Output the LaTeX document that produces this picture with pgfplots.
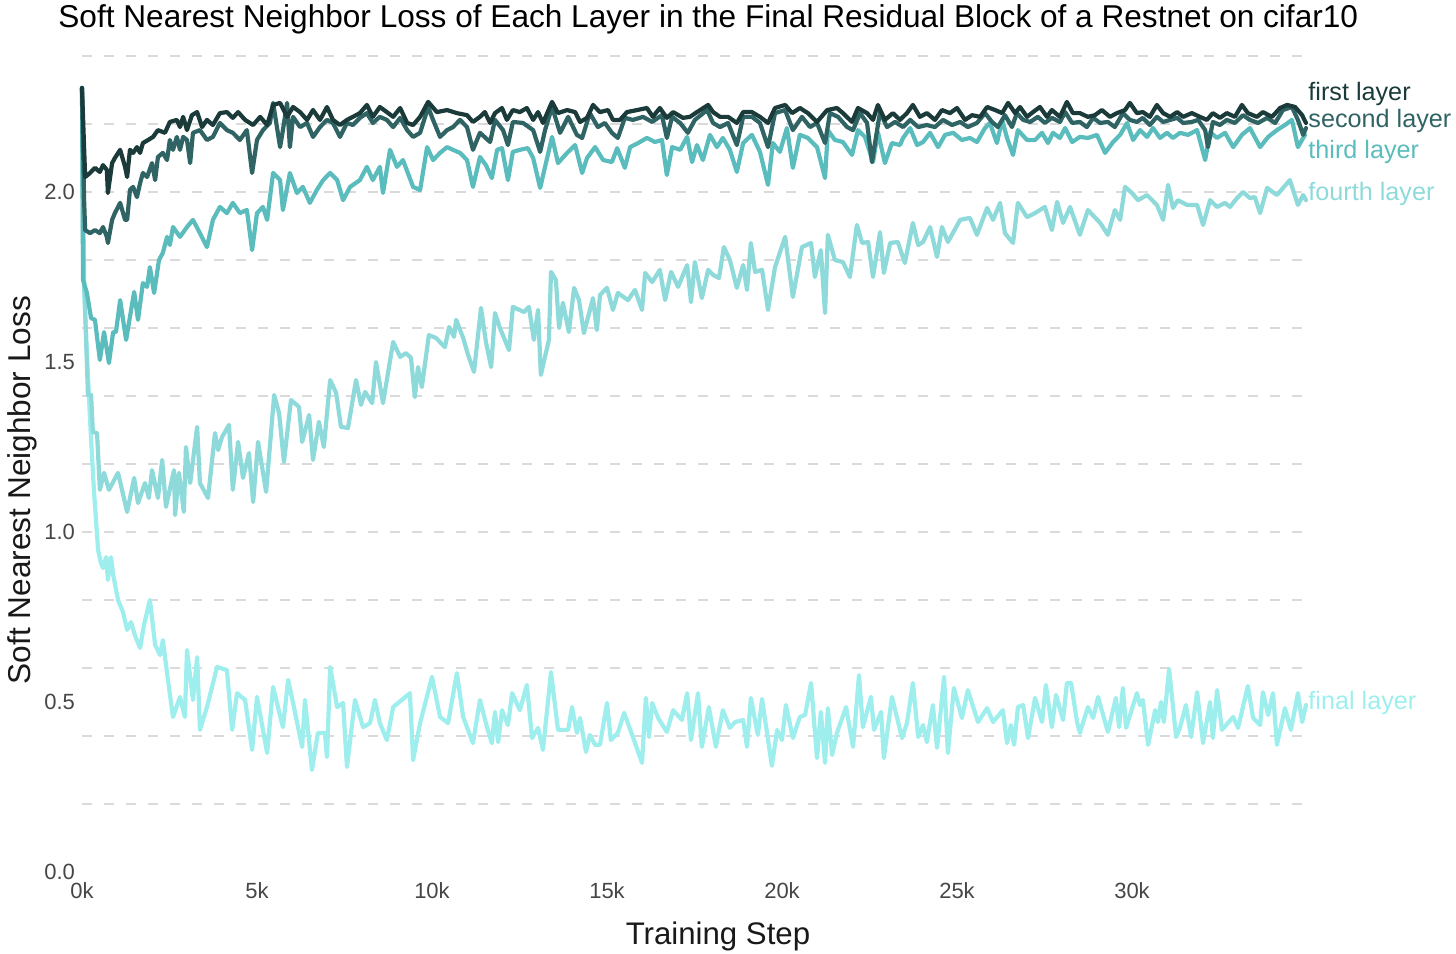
\documentclass[border=0pt]{standalone}
\usepackage{pgfplots}
\pgfplotsset{compat=1.18}
\usepackage{fontspec}
\setmainfont{Liberation Sans}
\definecolor{cfirst}{RGB}{27,58,58}
\definecolor{csecond}{RGB}{48,100,100}
\definecolor{cthird}{RGB}{90,188,188}
\definecolor{cfourth}{RGB}{142,218,218}
\definecolor{cfinal}{RGB}{158,238,238}
\definecolor{gridc}{RGB}{218,218,218}
\definecolor{tickc}{RGB}{70,70,70}
\begin{document}
\begin{tikzpicture}
\useasboundingbox (-41pt,-40.5pt) rectangle (687pt,436pt);
\begin{axis}[
  at={(0,0)}, anchor=south west,
  scale only axis, width=612.5pt, height=408pt,
  xmin=0, xmax=35, ymin=0, ymax=2.4,
  clip=false,
  axis line style={draw=none},
  major tick length=0pt, minor tick length=0pt,
  xtick={0,5,10,15,20,25,30},
  xticklabels={0k,5k,10k,15k,20k,25k,30k},
  ytick={0,0.5,1,1.5,2},
  yticklabels={0.0,0.5,1.0,1.5,2.0},
  minor ytick={0.2,0.4,0.6,0.8,1.0,1.2,1.4,1.6,1.8,2.0,2.2,2.4},
  yminorgrids=true, ymajorgrids=false, xmajorgrids=false,
  minor grid style={gridc, line width=1pt, dash pattern=on 5pt off 6pt},
  tick label style={font=\fontsize{11}{13}\selectfont, text=tickc},
  xticklabel style={yshift=-1.5pt},
  every axis plot/.append style={line width=2.1pt, line join=round, line cap=round, no marks},
]
% final layer
\addplot[cfinal] coordinates {
(0,2.306)(0.03,1.80)(0.11,1.594)(0.23,1.329)(0.34,1.124)(0.46,0.947)(0.54,0.909)(0.60,0.894)(0.69,0.926)(0.74,0.859)(0.83,0.926)(0.89,0.874)(1.03,0.800)(1.17,0.765)(1.29,0.712)(1.40,0.735)(1.51,0.697)(1.66,0.659)(1.77,0.726)(1.94,0.800)(2.09,0.668)(2.23,0.638)(2.31,0.682)(2.43,0.585)(2.60,0.456)(2.80,0.515)(2.94,0.456)(3.00,0.653)(3.17,0.506)(3.29,0.632)(3.37,0.418)(3.57,0.485)(3.86,0.603)(4.14,0.594)(4.29,0.418)(4.43,0.526)(4.66,0.506)(4.86,0.359)(5.00,0.515)(5.29,0.350)(5.46,0.544)(5.74,0.426)(5.89,0.565)(6.03,0.497)(6.29,0.368)(6.37,0.506)(6.57,0.300)(6.74,0.409)(6.94,0.409)(7.00,0.338)(7.09,0.603)(7.29,0.485)(7.46,0.497)(7.57,0.309)(7.80,0.506)(8.03,0.426)(8.23,0.438)(8.37,0.506)(8.51,0.438)(8.71,0.388)(8.89,0.485)(9.37,0.526)(9.46,0.329)(9.66,0.438)(10.00,0.574)(10.23,0.456)(10.46,0.438)(10.71,0.585)(10.89,0.456)(11.17,0.379)(11.37,0.506)(11.57,0.426)(11.71,0.379)(11.80,0.471)(11.89,0.382)(12.00,0.476)(12.17,0.432)(12.29,0.526)(12.51,0.476)(12.71,0.550)(12.86,0.394)(13.03,0.424)(13.17,0.359)(13.40,0.588)(13.60,0.418)(13.89,0.418)(14.00,0.485)(14.14,0.409)(14.23,0.453)(14.40,0.353)(14.51,0.403)(14.66,0.374)(14.80,0.374)(15.00,0.497)(15.11,0.388)(15.31,0.409)(15.49,0.468)(15.74,0.397)(16.00,0.321)(16.11,0.512)(16.20,0.397)(16.29,0.497)(16.46,0.453)(16.71,0.412)(16.89,0.476)(17.14,0.447)(17.29,0.526)(17.40,0.388)(17.60,0.526)(17.71,0.368)(17.91,0.485)(18.11,0.368)(18.31,0.476)(18.51,0.424)(18.66,0.441)(18.89,0.447)(19.00,0.368)(19.11,0.512)(19.31,0.403)(19.43,0.509)(19.71,0.312)(19.86,0.418)(20.00,0.388)(20.11,0.491)(20.31,0.394)(20.51,0.456)(20.66,0.462)(20.83,0.556)(21.00,0.335)(21.11,0.471)(21.23,0.321)(21.31,0.482)(21.43,0.344)(21.57,0.409)(21.83,0.485)(22.03,0.368)(22.20,0.579)(22.31,0.426)(22.54,0.515)(22.63,0.418)(22.83,0.471)(22.91,0.335)(23.14,0.515)(23.43,0.394)(23.57,0.438)(23.74,0.556)(23.89,0.397)(24.03,0.432)(24.14,0.382)(24.31,0.491)(24.43,0.365)(24.63,0.574)(24.74,0.350)(24.91,0.541)(25.14,0.453)(25.31,0.535)(25.60,0.441)(25.86,0.482)(26.03,0.441)(26.31,0.476)(26.43,0.379)(26.54,0.432)(26.63,0.374)(26.74,0.485)(26.89,0.491)(27.03,0.394)(27.23,0.512)(27.43,0.441)(27.54,0.550)(27.71,0.426)(27.83,0.521)(28.03,0.447)(28.14,0.556)(28.26,0.556)(28.43,0.441)(28.51,0.409)(28.74,0.485)(28.89,0.453)(29.03,0.515)(29.31,0.412)(29.54,0.512)(29.63,0.426)(29.74,0.541)(29.83,0.424)(30.14,0.526)(30.23,0.491)(30.31,0.506)(30.46,0.374)(30.66,0.476)(30.74,0.441)(30.83,0.500)(30.91,0.441)(31.06,0.597)(31.26,0.397)(31.37,0.424)(31.54,0.491)(31.69,0.397)(31.86,0.529)(32.03,0.379)(32.23,0.500)(32.31,0.394)(32.43,0.535)(32.57,0.418)(32.89,0.456)(33.03,0.424)(33.31,0.547)(33.46,0.453)(33.66,0.432)(33.74,0.529)(33.89,0.462)(34.03,0.526)(34.14,0.374)(34.37,0.482)(34.54,0.418)(34.74,0.526)(34.86,0.441)(34.97,0.491)
};
% fourth layer
\addplot[cfourth] coordinates {
(0,2.306)(0.06,1.741)(0.17,1.403)(0.26,1.403)(0.31,1.294)(0.43,1.291)(0.51,1.124)(0.63,1.174)(0.77,1.124)(1.03,1.174)(1.29,1.059)(1.49,1.159)(1.60,1.085)(1.80,1.144)(1.91,1.100)(2.00,1.182)(2.17,1.100)(2.29,1.212)(2.40,1.074)(2.63,1.182)(2.66,1.050)(2.77,1.174)(2.91,1.059)(2.97,1.250)(3.09,1.144)(3.29,1.309)(3.37,1.144)(3.60,1.100)(3.80,1.291)(3.89,1.241)(4.00,1.279)(4.20,1.315)(4.31,1.124)(4.46,1.265)(4.60,1.159)(4.77,1.232)(4.89,1.088)(5.03,1.265)(5.26,1.118)(5.49,1.403)(5.63,1.350)(5.77,1.206)(5.97,1.388)(6.20,1.368)(6.29,1.265)(6.49,1.344)(6.60,1.212)(6.77,1.324)(6.91,1.250)(7.09,1.447)(7.26,1.409)(7.40,1.309)(7.60,1.306)(7.83,1.447)(7.97,1.374)(8.09,1.412)(8.29,1.379)(8.40,1.500)(8.60,1.379)(8.89,1.559)(9.09,1.515)(9.26,1.526)(9.40,1.512)(9.51,1.397)(9.60,1.485)(9.71,1.426)(9.91,1.579)(10.11,1.571)(10.37,1.544)(10.49,1.603)(10.63,1.574)(10.69,1.624)(10.89,1.571)(11.03,1.521)(11.20,1.471)(11.40,1.659)(11.54,1.559)(11.69,1.485)(11.80,1.644)(11.94,1.600)(12.20,1.535)(12.31,1.662)(12.63,1.647)(12.77,1.662)(12.91,1.565)(13.03,1.653)(13.11,1.462)(13.34,1.565)(13.40,1.765)(13.54,1.741)(13.63,1.600)(13.74,1.674)(13.91,1.588)(14.06,1.718)(14.20,1.682)(14.34,1.585)(14.60,1.688)(14.71,1.594)(14.80,1.697)(15.00,1.718)(15.17,1.653)(15.31,1.703)(15.60,1.682)(15.80,1.712)(16.00,1.653)(16.09,1.762)(16.29,1.735)(16.51,1.771)(16.66,1.682)(16.83,1.765)(17.03,1.721)(17.29,1.785)(17.40,1.676)(17.51,1.794)(17.71,1.688)(17.89,1.771)(18.03,1.756)(18.20,1.747)(18.34,1.838)(18.51,1.800)(18.71,1.718)(18.89,1.785)(19.00,1.712)(19.11,1.850)(19.23,1.765)(19.43,1.771)(19.60,1.653)(19.80,1.779)(20.09,1.868)(20.31,1.691)(20.57,1.838)(20.83,1.850)(20.94,1.750)(21.11,1.829)(21.23,1.644)(21.31,1.874)(21.51,1.800)(21.74,1.794)(21.94,1.750)(22.14,1.903)(22.29,1.850)(22.46,1.853)(22.60,1.750)(22.80,1.882)(22.91,1.762)(23.09,1.850)(23.31,1.853)(23.51,1.791)(23.74,1.909)(23.89,1.844)(24.03,1.853)(24.23,1.897)(24.43,1.809)(24.57,1.897)(24.74,1.853)(25.09,1.918)(25.37,1.924)(25.57,1.874)(25.86,1.953)(26.03,1.918)(26.23,1.968)(26.37,1.879)(26.60,1.850)(26.74,1.968)(27.00,1.926)(27.23,1.938)(27.51,1.956)(27.71,1.888)(27.86,1.971)(28.03,1.909)(28.23,1.956)(28.51,1.874)(28.74,1.947)(29.09,1.909)(29.31,1.874)(29.51,1.947)(29.66,1.918)(29.80,2.015)(30.00,1.997)(30.17,1.976)(30.43,1.991)(30.71,1.962)(30.89,1.918)(31.03,2.021)(31.17,1.953)(31.31,1.976)(31.57,1.962)(31.86,1.962)(32.03,1.903)(32.23,1.976)(32.43,1.956)(32.66,1.968)(32.80,1.956)(33.00,1.982)(33.17,2.000)(33.37,1.982)(33.51,1.985)(33.66,1.938)(33.86,2.012)(34.14,1.991)(34.51,2.035)(34.74,1.962)(34.89,1.991)(34.97,1.976)
};
% third layer
\addplot[cthird] coordinates {
(0,2.306)(0.03,1.741)(0.14,1.703)(0.26,1.629)(0.37,1.624)(0.51,1.506)(0.63,1.588)(0.77,1.497)(0.89,1.588)(0.97,1.588)(1.09,1.682)(1.26,1.565)(1.49,1.706)(1.60,1.624)(1.74,1.732)(1.86,1.721)(1.94,1.779)(2.06,1.703)(2.20,1.800)(2.31,1.821)(2.43,1.868)(2.51,1.844)(2.60,1.897)(2.80,1.868)(3.00,1.897)(3.17,1.918)(3.37,1.879)(3.57,1.838)(3.74,1.918)(3.94,1.956)(4.14,1.938)(4.31,1.968)(4.51,1.938)(4.71,1.947)(4.86,1.829)(5.00,1.938)(5.17,1.956)(5.29,1.918)(5.46,2.056)(5.66,2.035)(5.74,1.947)(5.94,2.056)(6.14,1.997)(6.31,2.015)(6.51,1.968)(6.71,2.006)(6.89,2.035)(7.09,2.056)(7.29,2.035)(7.46,1.976)(7.66,2.015)(7.94,2.035)(8.14,2.074)(8.31,2.035)(8.51,2.074)(8.60,1.997)(8.80,2.124)(9.00,2.074)(9.17,2.094)(9.46,2.015)(9.66,2.006)(9.86,2.132)(10.03,2.094)(10.23,2.115)(10.43,2.132)(10.60,2.124)(10.80,2.115)(11.00,2.094)(11.17,2.015)(11.37,2.103)(11.54,2.079)(11.71,2.041)(11.86,2.124)(12.00,2.129)(12.17,2.035)(12.31,2.118)(12.51,2.124)(12.74,2.129)(12.89,2.100)(13.09,2.012)(13.23,2.074)(13.43,2.162)(13.60,2.085)(13.86,2.115)(14.09,2.138)(14.29,2.056)(14.43,2.100)(14.66,2.132)(14.89,2.094)(15.14,2.088)(15.29,2.129)(15.51,2.071)(15.66,2.132)(15.89,2.144)(16.14,2.159)(16.37,2.147)(16.57,2.153)(16.71,2.050)(16.86,2.132)(17.09,2.124)(17.29,2.162)(17.43,2.088)(17.57,2.138)(17.74,2.094)(17.94,2.168)(18.14,2.132)(18.31,2.159)(18.51,2.124)(18.71,2.059)(18.89,2.144)(19.14,2.168)(19.37,2.118)(19.60,2.021)(19.74,2.144)(19.94,2.118)(20.14,2.188)(20.31,2.071)(20.51,2.168)(20.74,2.159)(21.00,2.132)(21.23,2.041)(21.31,2.182)(21.51,2.153)(21.74,2.147)(22.00,2.109)(22.17,2.182)(22.37,2.162)(22.60,2.088)(22.74,2.176)(22.94,2.085)(23.14,2.144)(23.37,2.138)(23.46,2.159)(23.66,2.188)(23.86,2.138)(24.03,2.147)(24.23,2.174)(24.46,2.132)(24.66,2.168)(24.89,2.174)(25.14,2.153)(25.37,2.159)(25.57,2.147)(25.80,2.188)(25.94,2.203)(26.14,2.144)(26.29,2.212)(26.43,2.159)(26.60,2.109)(26.74,2.182)(27.00,2.153)(27.23,2.153)(27.43,2.174)(27.60,2.144)(27.74,2.174)(27.94,2.159)(28.09,2.188)(28.29,2.147)(28.51,2.162)(28.74,2.159)(29.00,2.168)(29.23,2.115)(29.46,2.147)(29.66,2.168)(29.86,2.203)(30.03,2.153)(30.23,2.182)(30.43,2.162)(30.60,2.188)(30.80,2.159)(31.00,2.174)(31.17,2.159)(31.37,2.174)(31.60,2.168)(31.86,2.182)(32.09,2.094)(32.23,2.176)(32.43,2.159)(32.66,2.174)(32.89,2.132)(33.14,2.168)(33.37,2.188)(33.66,2.132)(33.89,2.162)(34.14,2.182)(34.37,2.197)(34.57,2.212)(34.74,2.132)(34.94,2.168)
};
% second layer
\addplot[csecond] coordinates {
(0,2.306)(0.06,1.976)(0.09,1.888)(0.23,1.879)(0.37,1.888)(0.51,1.879)(0.60,1.897)(0.71,1.868)(0.74,1.850)(0.86,1.918)(0.94,1.938)(1.09,1.968)(1.23,1.918)(1.29,1.918)(1.37,2.006)(1.46,2.015)(1.57,1.985)(1.66,2.026)(1.74,2.056)(1.86,2.044)(2.00,2.085)(2.09,2.035)(2.17,2.103)(2.31,2.115)(2.43,2.094)(2.51,2.153)(2.60,2.124)(2.71,2.162)(2.80,2.124)(2.89,2.162)(3.00,2.153)(3.09,2.085)(3.17,2.174)(3.37,2.182)(3.57,2.153)(3.74,2.162)(3.94,2.203)(4.14,2.182)(4.31,2.174)(4.51,2.153)(4.71,2.182)(4.86,2.056)(5.00,2.153)(5.17,2.182)(5.37,2.203)(5.46,2.262)(5.66,2.132)(5.74,2.182)(5.86,2.262)(5.94,2.132)(6.03,2.221)(6.23,2.191)(6.43,2.203)(6.60,2.162)(6.80,2.191)(7.00,2.212)(7.17,2.203)(7.37,2.162)(7.57,2.203)(7.74,2.197)(7.94,2.218)(8.14,2.232)(8.31,2.203)(8.51,2.221)(8.71,2.212)(8.89,2.191)(9.09,2.218)(9.29,2.182)(9.46,2.162)(9.66,2.174)(9.89,2.250)(10.03,2.212)(10.23,2.162)(10.43,2.182)(10.60,2.191)(10.80,2.212)(11.00,2.191)(11.17,2.124)(11.37,2.174)(11.66,2.147)(11.80,2.212)(12.03,2.182)(12.17,2.138)(12.31,2.206)(12.60,2.203)(12.89,2.182)(13.09,2.118)(13.23,2.182)(13.43,2.250)(13.66,2.174)(13.89,2.221)(14.14,2.168)(14.29,2.159)(14.51,2.232)(14.74,2.191)(14.94,2.203)(15.14,2.174)(15.31,2.159)(15.51,2.218)(15.74,2.212)(16.03,2.221)(16.29,2.206)(16.57,2.226)(16.71,2.159)(16.86,2.221)(17.09,2.203)(17.31,2.174)(17.51,2.212)(17.86,2.241)(18.03,2.203)(18.23,2.191)(18.46,2.203)(18.71,2.138)(18.89,2.221)(19.14,2.221)(19.37,2.203)(19.60,2.132)(19.80,2.232)(20.09,2.241)(20.31,2.182)(20.57,2.221)(20.80,2.191)(21.00,2.203)(21.23,2.144)(21.37,2.232)(21.60,2.221)(21.86,2.191)(22.03,2.182)(22.23,2.232)(22.43,2.203)(22.57,2.088)(22.80,2.235)(23.00,2.191)(23.23,2.206)(23.46,2.191)(23.66,2.212)(23.89,2.191)(24.14,2.197)(24.37,2.191)(24.60,2.212)(24.86,2.197)(25.09,2.206)(25.31,2.191)(25.57,2.203)(25.80,2.232)(26.00,2.206)(26.17,2.191)(26.37,2.226)(26.57,2.191)(26.71,2.232)(26.89,2.212)(27.09,2.206)(27.31,2.221)(27.51,2.203)(27.71,2.218)(27.94,2.206)(28.09,2.235)(28.29,2.203)(28.51,2.206)(28.71,2.191)(28.89,2.218)(29.09,2.203)(29.31,2.206)(29.51,2.191)(29.74,2.232)(29.94,2.212)(30.14,2.206)(30.31,2.218)(30.51,2.197)(30.71,2.221)(30.89,2.206)(31.09,2.212)(31.29,2.218)(31.46,2.203)(31.71,2.206)(31.89,2.212)(32.09,2.182)(32.17,2.132)(32.31,2.206)(32.51,2.197)(32.71,2.212)(32.94,2.203)(33.17,2.226)(33.37,2.212)(33.60,2.203)(33.86,2.218)(34.09,2.203)(34.31,2.241)(34.57,2.250)(34.74,2.212)(34.89,2.168)(34.97,2.188)
};
% first layer
\addplot[cfirst] coordinates {
(0,2.306)(0.09,2.044)(0.23,2.056)(0.37,2.071)(0.51,2.059)(0.60,2.079)(0.71,2.065)(0.74,1.997)(0.86,2.085)(0.94,2.100)(1.09,2.124)(1.23,2.074)(1.29,2.044)(1.37,2.124)(1.46,2.115)(1.57,2.132)(1.66,2.115)(1.74,2.144)(1.89,2.153)(2.03,2.162)(2.17,2.182)(2.37,2.174)(2.51,2.206)(2.71,2.212)(2.80,2.191)(2.89,2.221)(3.00,2.182)(3.14,2.226)(3.29,2.235)(3.43,2.191)(3.57,2.212)(3.74,2.197)(3.94,2.232)(4.14,2.235)(4.31,2.218)(4.46,2.235)(4.66,2.212)(4.89,2.197)(5.09,2.221)(5.29,2.197)(5.46,2.256)(5.66,2.262)(5.86,2.221)(6.03,2.250)(6.23,2.235)(6.43,2.212)(6.60,2.241)(6.80,2.212)(7.00,2.250)(7.17,2.212)(7.37,2.197)(7.57,2.212)(7.74,2.221)(7.94,2.232)(8.14,2.256)(8.31,2.221)(8.51,2.250)(8.71,2.235)(8.89,2.221)(9.09,2.247)(9.29,2.203)(9.46,2.197)(9.66,2.221)(9.89,2.265)(10.14,2.235)(10.43,2.241)(10.71,2.232)(11.00,2.226)(11.17,2.206)(11.37,2.221)(11.51,2.235)(11.66,2.203)(11.80,2.232)(12.00,2.247)(12.14,2.212)(12.31,2.241)(12.51,2.235)(12.71,2.247)(12.89,2.212)(13.03,2.235)(13.17,2.203)(13.43,2.265)(13.60,2.232)(13.86,2.241)(14.09,2.235)(14.23,2.206)(14.43,2.218)(14.60,2.256)(14.80,2.235)(15.03,2.241)(15.17,2.212)(15.37,2.212)(15.57,2.235)(15.86,2.241)(16.14,2.247)(16.31,2.221)(16.51,2.247)(16.71,2.218)(16.89,2.235)(17.17,2.218)(17.37,2.221)(17.57,2.235)(17.89,2.256)(18.03,2.235)(18.23,2.221)(18.46,2.221)(18.71,2.203)(18.89,2.235)(19.14,2.235)(19.37,2.221)(19.60,2.203)(19.80,2.247)(20.09,2.256)(20.29,2.232)(20.51,2.247)(20.74,2.232)(21.00,2.206)(21.29,2.241)(21.57,2.247)(21.74,2.232)(22.00,2.206)(22.17,2.247)(22.43,2.232)(22.60,2.212)(22.74,2.256)(22.94,2.212)(23.17,2.232)(23.37,2.212)(23.57,2.232)(23.74,2.256)(23.94,2.221)(24.14,2.232)(24.37,2.212)(24.57,2.241)(24.80,2.232)(25.00,2.247)(25.23,2.212)(25.43,2.226)(25.66,2.221)(25.86,2.250)(26.09,2.241)(26.29,2.232)(26.46,2.262)(26.66,2.232)(26.80,2.250)(27.00,2.221)(27.17,2.235)(27.37,2.250)(27.57,2.221)(27.71,2.241)(27.94,2.221)(28.14,2.265)(28.31,2.232)(28.51,2.232)(28.74,2.221)(28.94,2.226)(29.14,2.241)(29.37,2.221)(29.57,2.232)(29.80,2.241)(29.94,2.262)(30.14,2.232)(30.31,2.235)(30.51,2.221)(30.71,2.256)(30.89,2.232)(31.09,2.221)(31.29,2.235)(31.46,2.221)(31.71,2.232)(31.94,2.221)(32.14,2.212)(32.31,2.232)(32.51,2.218)(32.71,2.232)(32.94,2.221)(33.14,2.256)(33.31,2.232)(33.57,2.221)(33.74,2.235)(34.00,2.221)(34.23,2.247)(34.43,2.256)(34.66,2.250)(34.86,2.226)(34.97,2.203)
};
\node[anchor=west, text=cfirst, font=\fontsize{12.6}{14}\selectfont, inner sep=0pt] at (axis cs:35.03,2.288) {first layer};
\node[anchor=west, text=csecond, font=\fontsize{12.6}{14}\selectfont, inner sep=0pt] at (axis cs:35.03,2.209) {second layer};
\node[anchor=west, text=cthird, font=\fontsize{12.6}{14}\selectfont, inner sep=0pt] at (axis cs:35.03,2.118) {third layer};
\node[anchor=west, text=cfourth, font=\fontsize{12.6}{14}\selectfont, inner sep=0pt] at (axis cs:35.03,1.994) {fourth layer};
\node[anchor=west, text=cfinal, font=\fontsize{12.6}{14}\selectfont, inner sep=0pt] at (axis cs:35.03,0.497) {final layer};
\end{axis}
\node[anchor=base west, inner sep=0pt, font=\fontsize{15.8}{18}\selectfont] at (-12pt,422pt) {Soft Nearest Neighbor Loss of Each Layer in the Final Residual Block of a Restnet on cifar10};
\node[rotate=90, inner sep=0pt, font=\fontsize{15.8}{18}\selectfont, text=black!90] at (-30pt,191pt) {Soft Nearest Neighbor Loss};
\node[inner sep=0pt, font=\fontsize{15.6}{18}\selectfont, text=black!90] at (318pt,-32pt) {Training Step};
\end{tikzpicture}
\end{document}
